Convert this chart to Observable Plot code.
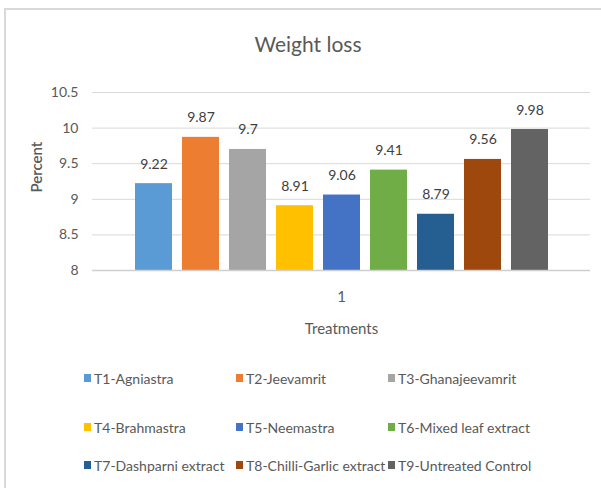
<!DOCTYPE html>
<html>
<head>
<meta charset="utf-8">
<script src="https://cdn.jsdelivr.net/npm/d3@7"></script>
<script src="https://cdn.jsdelivr.net/npm/@observablehq/plot@0.6"></script>
<style>
  body { margin: 0; background: #fff; }
  #chart { position: relative; width: 601px; height: 488px; overflow: hidden; font-family: Lato, "Open Sans", sans-serif; background: #fff; }
  #frame { position: absolute; left: 4px; top: 8px; width: 620px; height: 500px; border-top: 2px solid #d9d9d9; border-left: 2px solid #d9d9d9; }
  #title { position: absolute; top: 30px; left: 208px; width: 200px; text-align: center; font-size: 21px; color: #595959; line-height: 28px; }
  #plot { position: absolute; left: 0; top: 0; }
  #legend { position: absolute; left: 84px; top: 356px; display: grid; grid-template-columns: 152px 152px 160px; grid-template-rows: 44px 54px 22px; }
  .item { display: flex; align-items: center; font-size: 14px; color: #595959; white-space: nowrap; }
  .sw { width: 7px; height: 8px; margin-right: 3px; flex: none; }
</style>
</head>
<body>
<div id="chart">
  <div id="frame"></div>
  <div id="title"></div>
  <div id="plot"></div>
  <div id="legend"></div>
</div>
<script>
const titleText = "Weight loss";
const treatments = [
  "T1-Agniastra", "T2-Jeevamrit", "T3-Ghanajeevamrit",
  "T4-Brahmastra", "T5-Neemastra", "T6-Mixed leaf extract",
  "T7-Dashparni extract", "T8-Chilli-Garlic extract", "T9-Untreated Control"
];
const values = [9.22, 9.87, 9.7, 8.91, 9.06, 9.41, 8.79, 9.56, 9.98];
const colors = ["#5b9bd5", "#ed7d31", "#a5a5a5", "#ffc000", "#4472c4", "#70ad47", "#255e91", "#9e480e", "#636363"];
const groupLabels = ["1"];
const yTicks = [8, 8.5, 9, 9.5, 10, 10.5];
const yTickLabels = ["8", "8.5", "9", "9.5", "10", "10.5"];
const yLabel = "Percent";
const xLabel = "Treatments";

const data = treatments.map((t, i) => ({ treatment: t, value: values[i], group: groupLabels[0] }));

document.getElementById("title").textContent = titleText;

const chart = Plot.plot({
  width: 601,
  height: 345,
  marginTop: 92,
  marginBottom: 75,
  marginLeft: 92,
  marginRight: 11,
  style: { fontFamily: "Lato, 'Open Sans', sans-serif", fontSize: "14px", color: "#595959", background: "transparent", overflow: "visible" },
  y: { domain: [yTicks[0], yTicks[yTicks.length - 1]] },
  x: { domain: treatments, paddingInner: 0.221, paddingOuter: 0.853, axis: null },
  fx: { domain: groupLabels, padding: 0 },
  color: { domain: treatments, range: colors },
  marks: [
    Plot.gridY(yTicks, { stroke: "#d9d9d9", strokeOpacity: 1, strokeWidth: 1 }),
    Plot.barY(data, { fx: "group", x: "treatment", y1: yTicks[0], y2: "value", fill: "treatment" }),
    Plot.ruleY([yTicks[0]], { stroke: "#cfcfcf", strokeWidth: 1.5 }),
    Plot.text(data, { fx: "group", x: "treatment", y: "value", text: d => String(d.value), lineAnchor: "bottom", dy: -15, fill: "#404040", fontSize: 14 }),
    Plot.axisY({ ticks: yTicks, tickFormat: (d, i) => yTickLabels[i], tickSize: 0, tickPadding: 14, label: null, fontSize: 14, fill: "#595959" }),
    Plot.axisFx({ anchor: "bottom", tickSize: 0, tickPadding: 21, label: xLabel, labelAnchor: "center", labelOffset: 63, fontSize: 15, fill: "#595959" }),
    Plot.text([yLabel], { frameAnchor: "left", dx: -55, dy: 11, rotate: -90, fontSize: 15, fontWeight: 600, fill: "#595959" })
  ]
});
document.getElementById("plot").appendChild(chart);

const legend = document.getElementById("legend");
treatments.forEach((t, i) => {
  const item = document.createElement("div");
  item.className = "item";
  const sw = document.createElement("span");
  sw.className = "sw";
  sw.style.background = colors[i];
  const label = document.createElement("span");
  label.textContent = t;
  item.appendChild(sw);
  item.appendChild(label);
  legend.appendChild(item);
});
</script>
</body>
</html>
